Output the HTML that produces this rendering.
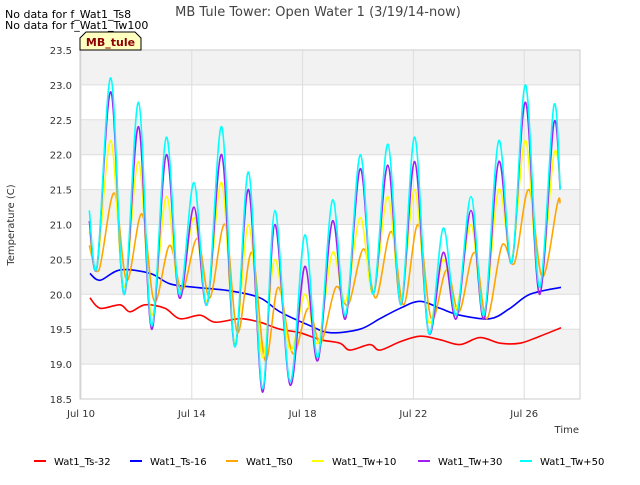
<!DOCTYPE html>
<html><head><meta charset="utf-8"><style>
body{margin:0;background:#fff;font-family:"Liberation Sans","DejaVu Sans",sans-serif}
svg text{font-family:"DejaVu Sans","Liberation Sans",sans-serif}
</style></head><body>
<svg id="c" width="640" height="480">
<rect x="0" y="0" width="640" height="480" fill="#fff"/>
<g id="plot"></g>
<text x="318" y="16" font-size="13" fill="#444" text-anchor="middle">MB Tule Tower: Open Water 1 (3/19/14-now)</text>
<text x="5" y="18" font-size="11" fill="#000">No data for f_Wat1_Ts8</text>
<text x="5" y="29" font-size="11" fill="#000">No data for f_Wat1_Tw100</text>
<path d="M80,50 L80,38 L86,32 L135,32 L141,38 L141,50 Z" fill="#ffffc0" stroke="#000"/>
<text x="110.5" y="46" font-size="11" font-weight="bold" fill="#8b0000" text-anchor="middle">MB_tule</text>
<text x="14" y="225" font-size="10" fill="#333" text-anchor="middle" transform="rotate(-90 14 225)">Temperature (C)</text>
<text x="579" y="433" font-size="10" fill="#333" text-anchor="end">Time</text>
<g id="legend"></g>
</svg>
<script>
const yTicks=[18.5,19.0,19.5,20.0,20.5,21.0,21.5,22.0,22.5,23.0,23.5];
const xTickDays=[0,4,8,12,16];
const xTickLabels=["Jul 10","Jul 14","Jul 18","Jul 22","Jul 26"];
const seriesNames=["Wat1_Ts-32","Wat1_Ts-16","Wat1_Ts0","Wat1_Tw+10","Wat1_Tw+30","Wat1_Tw+50"];
const seriesColors=["#ff0000","#0000ff","#ffa500","#ffff00","#a020f0","#00ffff"];
const redT=[0.32,0.69,1.41,1.77,2.31,3.03,3.57,4.3,4.84,5.74,6.46,7.18,7.9,8.63,9.35,9.71,10.43,10.79,11.52,12.24,12.96,13.68,14.4,15.13,15.85,16.57,17.33];
const redV=[19.95,19.8,19.85,19.75,19.85,19.8,19.65,19.7,19.6,19.65,19.6,19.5,19.45,19.35,19.3,19.2,19.28,19.2,19.32,19.4,19.35,19.28,19.38,19.3,19.3,19.4,19.52];
const blueT=[0.32,0.69,1.41,2.49,3.21,4.12,5.38,6.46,7.18,8.27,8.99,10.07,10.79,11.52,12.24,12.96,13.68,14.77,15.49,16.21,17.33];
const blueV=[20.3,20.2,20.35,20.3,20.15,20.1,20.05,19.95,19.75,19.55,19.45,19.5,19.65,19.8,19.9,19.8,19.7,19.65,19.8,20.0,20.1];
const diurnalT=[0.3,0.58,1.08,1.55,2.08,2.55,3.08,3.55,4.08,4.55,5.08,5.55,6.05,6.55,7.0,7.55,8.08,8.55,9.08,9.55,10.08,10.55,11.08,11.55,12.05,12.55,13.08,13.55,14.08,14.55,15.08,15.55,16.05,16.55,17.07,17.3];
const orangeT=[0.3,0.65,1.2,1.65,2.2,2.65,3.2,3.65,4.2,4.65,5.2,5.65,6.17,6.65,7.12,7.65,8.2,8.65,9.2,9.65,10.2,10.65,11.2,11.65,12.17,12.65,13.2,13.65,14.2,14.65,15.2,15.65,16.17,16.65,17.2,17.3];
const orangeV=[20.7,20.35,21.45,20.2,21.15,19.9,20.7,20.05,20.8,19.95,21.0,19.45,20.6,19.05,20.1,19.15,19.8,19.3,20.1,19.85,20.65,19.95,20.9,19.85,21.0,19.65,20.35,19.75,20.6,19.65,20.7,20.45,21.5,20.25,21.3,21.3];
const yellowV=[20.9,20.4,22.2,20.1,21.9,19.7,21.4,20.0,21.1,19.9,21.6,19.3,21.0,19.1,20.5,19.2,20.0,19.3,20.6,19.9,21.1,20.0,21.4,19.9,21.5,19.6,20.5,19.8,21.0,19.7,21.5,20.5,22.2,20.1,22.0,21.6];
const purpleV=[21.05,20.4,22.9,20.0,22.4,19.5,22.0,19.95,21.25,19.85,22.0,19.25,21.5,18.6,21.0,18.7,20.4,19.05,21.05,19.65,21.8,20.0,21.85,19.85,21.9,19.45,20.6,19.65,21.2,19.65,21.9,20.45,22.75,20.0,22.45,21.5];
const cyanV=[21.2,20.4,23.1,20.0,22.75,19.55,22.25,20.0,21.6,19.85,22.4,19.25,21.75,18.65,21.2,18.75,20.85,19.1,21.35,19.7,22.0,20.0,22.15,19.85,22.25,19.45,20.95,19.7,21.4,19.7,22.2,20.45,23.0,20.1,22.7,21.5];

const NS="http://www.w3.org/2000/svg";
const L=80,R=580,T=50,B=399;
const xS=d=>81+d*27.7;
const yS=v=>B-(v-18.5)*(B-T)/5;
const g=document.getElementById('plot');
function el(tag,attrs,parent){const e=document.createElementNS(NS,tag);for(const k in attrs)e.setAttribute(k,attrs[k]);(parent||g).appendChild(e);return e;}
function smoothPath(P){
  let d='M'+P[0][0].toFixed(1)+','+P[0][1].toFixed(1);
  for(let i=0;i<P.length-1;i++){
    const p0=P[Math.max(0,i-1)],p1=P[i],p2=P[i+1],p3=P[Math.min(P.length-1,i+2)];
    const c1x=p1[0]+(p2[0]-p0[0])/6,c1y=p1[1]+(p2[1]-p0[1])/6;
    const c2x=p2[0]-(p3[0]-p1[0])/6,c2y=p2[1]-(p3[1]-p1[1])/6;
    d+=' C'+c1x.toFixed(1)+','+c1y.toFixed(1)+' '+c2x.toFixed(1)+','+c2y.toFixed(1)+' '+p2[0].toFixed(1)+','+p2[1].toFixed(1);
  }
  return d;
}
el('rect',{x:L,y:T,width:R-L,height:B-T,fill:'#fff'});
for(let i=0;i<yTicks.length-1;i++){
  if(i%2===1){const r=el('rect',{x:L,y:yS(yTicks[i+1]),width:R-L,height:yS(yTicks[i])-yS(yTicks[i+1]),fill:'#f2f2f2'});
  
  }
}
yTicks.forEach(v=>{
  el('line',{x1:L,x2:R,y1:yS(v),y2:yS(v),stroke:'#ddd'});
  const t=el('text',{x:L-8,y:yS(v)+4,'font-size':10,fill:'#333','text-anchor':'end'});
  t.textContent=v.toFixed(1);
  
  
});
xTickDays.forEach((d,i)=>{
  el('line',{x1:xS(d),x2:xS(d),y1:T,y2:B,stroke:'#ddd'});
  const t=el('text',{x:xS(d),y:B+18,'font-size':10,fill:'#333','text-anchor':'middle'});
  t.textContent=xTickLabels[i];
  
  
});
el('rect',{x:L,y:T,width:R-L,height:B-T,fill:'none',stroke:'#ccc'});
const series=[[redT,redV],[blueT,blueV],[orangeT,orangeV],[diurnalT,yellowV],[diurnalT,purpleV],[diurnalT,cyanV]];
series.forEach((s,i)=>{
  const P=s[0].map((t,j)=>[xS(t),yS(s[1][j])]);
  const p=el('path',{d:smoothPath(P),fill:'none',stroke:seriesColors[i],'stroke-width':1.6,'stroke-linejoin':'round'});
  
  
});
const lg=document.getElementById('legend');
const lx=[34,130,226,312,418,520];
seriesNames.forEach((n,i)=>{
  const e=el('g',{},lg);
  
  
  el('line',{x1:lx[i],x2:lx[i]+12,y1:461,y2:461,stroke:seriesColors[i],'stroke-width':2},e);
  const t=el('text',{x:lx[i]+20,y:465,'font-size':10,fill:'#000'},e);
  t.textContent=n;
});
</script>
</body></html>
